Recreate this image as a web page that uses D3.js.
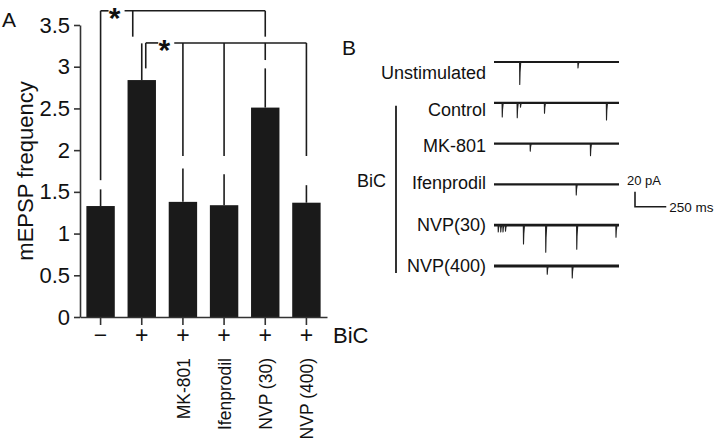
<!DOCTYPE html>
<html><head><meta charset="utf-8">
<script src="https://cdn.jsdelivr.net/npm/d3@7"></script>
<style>
body{margin:0;background:#fff;}
svg{display:block;font-family:"Liberation Sans",Arial,Helvetica,sans-serif;}
</style></head>
<body><svg id="c" width="717" height="444"></svg>
<script>
// ---------- Panel A data ----------
const categories = ["ctrl","bic","mk801","ifen","nvp30","nvp400"];
const bicLabels  = ["−","+","+","+","+","+"];
const drugLabels = ["","","MK-801","Ifenprodil","NVP (30)","NVP (400)"];
const means      = [1.33, 2.84, 1.38, 1.34, 2.51, 1.37];
const errTops    = [1.53, 3.28, 1.78, 1.71, 2.98, 1.58];
const yTicks     = [0, 0.5, 1, 1.5, 2, 2.5, 3, 3.5];
// significance brackets (level and leg bottoms in data units)
const bracketLevels = [3.67, 3.285];
const bracketLegs = [
  [["ctrl",1.64],["bic",3.36],["nvp30",3.36]],
  [["bic",2.98],["mk801",1.93],["ifen",1.93],["nvp30",3.08],["nvp400",1.93]]
];
// ---------- Panel B data ----------
const traceNames = ["Unstimulated","Control","MK-801","Ifenprodil","NVP(30)","NVP(400)"];
// events: [time ms, amplitude pA] (inward, drawn downward)
const traceEvents = [
  [[206,30],[672,8]],
  [[66,19],[186,20],[212,6],[404,14],[900,23]],
  [[290,10],[772,16]],
  [[658,14]],
  [[34,9],[54,9],[72,9],[92,8],[236,25],[414,36],[662,32],[976,16]],
  [[426,11],[626,16]]
];
const scaleBarTime = 250, scaleBarCurrent = 20;

// ---------- layout / style ----------
const ink = "#1c1c1c";
const svg = d3.select("#c");
const fontA = 22;

const x = d3.scaleBand().domain(categories).range([80, 327]).paddingInner(0.31).paddingOuter(0.155);
const y = d3.scaleLinear().domain([0, 3.5]).range([317, 25]);
const cx = c => x(c) + x.bandwidth()/2;

// bars
svg.append("g").selectAll("rect").data(categories).join("rect")
  .attr("x", d => x(d)).attr("width", x.bandwidth())
  .attr("y", (d,i) => y(means[i])).attr("height", (d,i) => y(0) - y(means[i]))
  .attr("fill", "#1a1a1a");

// error bars (upward only)
svg.append("g").selectAll("line").data(categories).join("line")
  .attr("x1", d => cx(d)).attr("x2", d => cx(d))
  .attr("y1", (d,i) => y(means[i])).attr("y2", (d,i) => y(errTops[i]))
  .attr("stroke", ink).attr("stroke-width", 1.6);

// axes
const yAxis = svg.append("g").attr("transform", "translate(80,0)")
  .call(d3.axisLeft(y).tickValues(yTicks).tickSize(6).tickSizeOuter(0).tickPadding(4).tickFormat(d3.format("")));
const xAxis = svg.append("g").attr("transform", `translate(0,${y(0)})`)
  .call(d3.axisBottom(x).tickSize(8).tickSizeOuter(0).tickPadding(2).tickFormat((d,i) => bicLabels[i]));
[yAxis, xAxis].forEach(g => {
  g.selectAll("path,line").attr("stroke", "#333").attr("stroke-width", 1.6);
  g.selectAll("text").attr("fill", "#111").style("font-size", fontA + "px").style("font-family", null);
});
xAxis.selectAll("text").style("font-size", "23px");

svg.append("text").attr("x", 333).attr("y", 343).text("BiC")
  .style("font-size", fontA + "px").attr("fill", "#111");

// drug labels (rotated)
svg.append("g").selectAll("text").data(categories.filter((d,i) => drugLabels[i])).join("text")
  .attr("transform", d => `translate(${cx(d) + 7},358) rotate(-90)`)
  .attr("text-anchor", "end")
  .style("font-size", "17.5px").attr("fill", "#111")
  .text(d => drugLabels[categories.indexOf(d)]);

// y label
svg.append("text").attr("transform", `translate(33,${(y(0)+y(3.5))/2}) rotate(-90)`)
  .attr("text-anchor", "middle").style("font-size", "22px").attr("fill", "#111")
  .text("mEPSP frequency");

// panel letters
svg.append("text").attr("x", 2).attr("y", 27).style("font-size", "21px").attr("fill", "#111").text("A");
svg.append("text").attr("x", 342).attr("y", 55).style("font-size", "21px").attr("fill", "#111").text("B");

// significance brackets
const legShift = [[0,-9,0],[4,0,0,0,0]];
const starOffset = [14, 18.5];
const bg = svg.append("g").attr("stroke", ink).attr("stroke-width", 1.6).attr("fill", "none");
bracketLevels.forEach((lv, b) => {
  const legs = bracketLegs[b];
  const xs = legs.map((l,k) => cx(l[0]) + legShift[b][k]);
  const yl = y(lv);
  const sx = xs[0] + starOffset[b];
  bg.append("line").attr("x1", xs[0]).attr("x2", sx - 6).attr("y1", yl).attr("y2", yl);
  bg.append("line").attr("x1", sx + 10).attr("x2", xs[xs.length-1]).attr("y1", yl).attr("y2", yl);
  legs.forEach((l,k) => {
    bg.append("line").attr("x1", xs[k]).attr("x2", xs[k]).attr("y1", yl).attr("y2", y(l[1]));
  });
  svg.append("text").attr("x", sx).attr("y", yl + 17).attr("text-anchor", "middle")
    .style("font-size", "30px").style("font-weight", "bold").attr("fill", "#111").text("*");
});

// ---------- Panel B ----------
const t = d3.scaleLinear().domain([0, 1000]).range([494, 619]);
const amp = d3.scaleLinear().domain([0, 20]).range([0, 15]);
const rowLabelY = d3.scaleLinear().domain([0, 3, 5]).range([72.5, 183, 266]);
const rowTraceY = d3.scaleLinear().domain([0, 5]).range([62, 266]);
const lineGen = d3.line().x(p => t(p[0])).y(p => p[1]);

traceNames.forEach((name, i) => {
  svg.append("text").attr("x", 486).attr("y", rowLabelY(i)).attr("dy", "0.35em")
    .attr("text-anchor", "end").style("font-size", "18px").attr("fill", "#111").text(name);
  const base = rowTraceY(i);
  // baseline (noisy band look)
  svg.append("path").attr("d", lineGen([[0, base], [1000, base]]))
    .attr("stroke", "#1a1a1a").attr("stroke-width", name.startsWith("NVP") ? 2.8 : 2.2).attr("fill", "none");
  // events
  traceEvents[i].forEach(([tm, a]) => {
    const pts = [[tm - 1.5, base], [tm, base + amp(a)], [tm + 2.5, base + amp(a) * 0.45], [tm + 8, base]];
    svg.append("path").attr("d", lineGen(pts)).attr("fill", "none")
      .attr("stroke", "#222").attr("stroke-width", 1.1).attr("stroke-linejoin", "round");
  });
});

// BiC bracket line
svg.append("line").attr("x1", 396).attr("x2", 396).attr("y1", rowLabelY(0.9)).attr("y2", rowLabelY(5) + 7)
  .attr("stroke", ink).attr("stroke-width", 1.8);
svg.append("text").attr("x", 357).attr("y", 187).style("font-size", "18px").attr("fill", "#111").text("BiC");

// scale bar
const sbx = 635, sby = 206.7;
svg.append("path")
  .attr("d", `M${sbx},${sby - amp(scaleBarCurrent)}V${sby}H${sbx + t(scaleBarTime) - t(0)}`)
  .attr("fill", "none").attr("stroke", ink).attr("stroke-width", 1.6);
svg.append("text").attr("x", 627).attr("y", 185).style("font-size", "13px").attr("fill", "#111").text(scaleBarCurrent + " pA");
svg.append("text").attr("x", sbx + t(scaleBarTime) - t(0) + 3).attr("y", sby + 5).style("font-size", "13.5px").attr("fill", "#111").text(scaleBarTime + " ms");
</script></body></html>
